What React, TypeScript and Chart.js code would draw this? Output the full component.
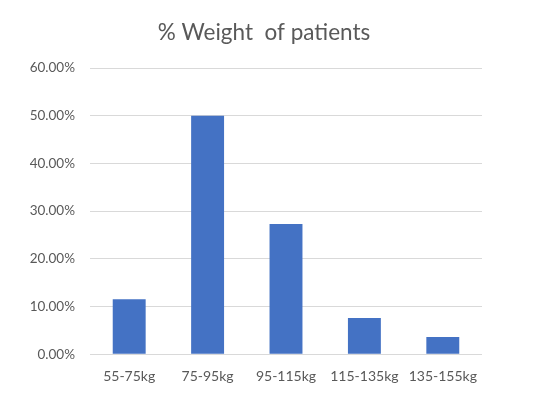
import React, { useEffect, useRef } from "react";
import { Chart, registerables } from "chart.js";

Chart.register(...registerables);

const categories = ["55-75kg", "75-95kg", "95-115kg", "115-135kg", "135-155kg"];
const percentages = [11.5, 50.0, 27.3, 7.6, 3.6];
const chartTitle = "% Weight  of patients";

export default function App() {
  const ref = useRef<HTMLCanvasElement>(null);
  useEffect(() => {
    document.body.style.margin = "0";
    const ctx = ref.current!;
    const chart = new Chart(ctx, {
      type: "bar",
      data: {
        labels: categories,
        datasets: [
          {
            data: percentages,
            backgroundColor: "#4472C4",
            barPercentage: 0.42,
            categoryPercentage: 1,
          },
        ],
      },
      options: {
        animation: false,
        responsive: false,
        maintainAspectRatio: false,
        layout: { padding: { left: 8, right: 14, top: 15, bottom: -3 } },
        plugins: {
          legend: { display: false },
          tooltip: { enabled: false },
          title: {
            display: true,
            text: chartTitle,
            color: "#595959",
            font: { family: "Lato", size: 22.5, weight: "normal" },
            padding: { top: 4, bottom: 22 },
          },
        },
        scales: {
          x: {
            grid: { display: false, drawTicks: false },
            border: { display: false },
            ticks: {
              color: "#595959",
              font: { family: "Lato", size: 14 },
              padding: 14,
              maxRotation: 0,
              autoSkip: false,
            },
          },
          y: {
            min: 0,
            max: 60,
            border: { display: false },
            grid: { color: "#d9d9d9", drawTicks: false, lineWidth: 1 },
            afterFit: (axis: any) => {
              axis.width = 82;
            },
            ticks: {
              stepSize: 10,
              color: "#595959",
              font: { family: "Lato", size: 13.5 },
              padding: 15,
              callback: (v: any) => Number(v).toFixed(2) + "%",
            },
          },
          yRight: {
            position: "right",
            display: true,
            min: 0,
            max: 60,
            border: { display: false },
            grid: { display: false, drawTicks: false },
            ticks: { display: false },
            afterFit: (axis: any) => {
              axis.width = 38;
            },
          },
        },
      },
    });
    return () => chart.destroy();
  }, []);
  return (
    <div style={{ width: 534, height: 396 }}>
      <canvas ref={ref} width={534} height={396} style={{ display: "block" }} />
    </div>
  );
}
